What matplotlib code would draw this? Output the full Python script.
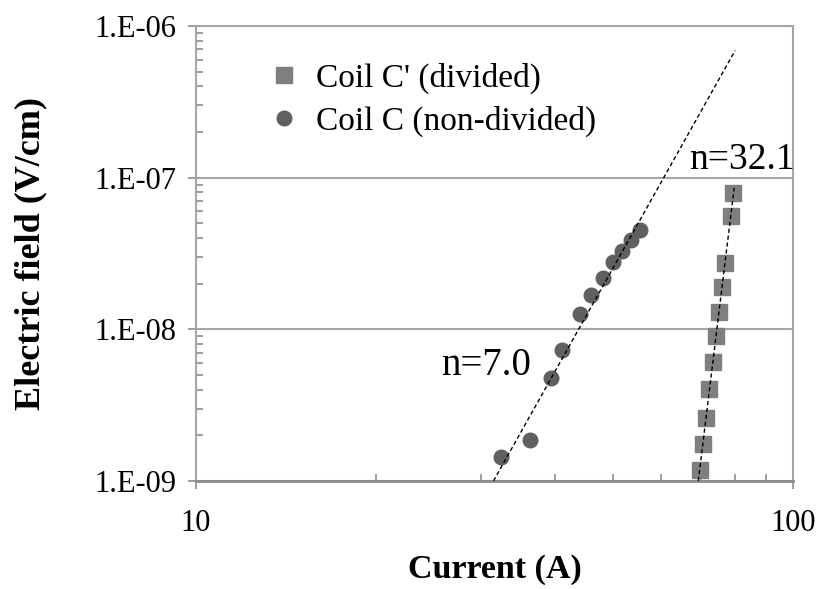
import math
import matplotlib
matplotlib.use("Agg")
import matplotlib.pyplot as plt
from matplotlib.ticker import FixedLocator, FuncFormatter, LogLocator, NullFormatter

# Coil C' (divided) - squares
cp_current = [79.4, 78.7, 76.9, 76.0, 75.3, 74.3, 73.4, 72.4, 71.5, 70.7, 69.8]
cp_field = [7.96e-8, 5.59e-8, 2.73e-8, 1.89e-8, 1.31e-8, 9.09e-9, 6.07e-9,
            4.06e-9, 2.59e-9, 1.76e-9, 1.18e-9]

# Coil C (non-divided) - circles
c_current = [32.4, 36.3, 39.3, 41.1, 43.9, 45.8, 48.0, 49.9, 51.8, 53.5, 55.4]
c_field = [1.45e-9, 1.87e-9, 4.80e-9, 7.31e-9, 1.26e-8, 1.69e-8, 2.19e-8,
           2.78e-8, 3.30e-8, 3.88e-8, 4.52e-8]

# fitted n-value lines (end points)
fit_c_current = [31.5, 80.0]
fit_c_field = [1.0e-9, 6.9e-7]
fit_cp_current = [69.4, 79.7]
fit_cp_field = [1.0e-9, 8.55e-8]

plt.rcParams['font.family'] = ['Liberation Serif', 'DejaVu Serif']

fig = plt.figure(figsize=(8.21, 5.89), dpi=100)
ax = fig.add_axes([0.2387, 0.1834, 0.7272, 0.7725])

ax.set_xscale('log')
ax.set_yscale('log')
ax.set_xlim(10, 100)
ax.set_ylim(1e-9, 1e-6)

ax.yaxis.set_major_locator(FixedLocator([1e-9, 1e-8, 1e-7, 1e-6]))
ax.yaxis.set_major_formatter(FuncFormatter(lambda v, p: "1.E-%02d" % round(-math.log10(v))))
ax.xaxis.set_major_locator(FixedLocator([10, 100]))
ax.xaxis.set_major_formatter(FuncFormatter(lambda v, p: "%d" % v))
ax.xaxis.set_minor_locator(LogLocator(base=10, subs=range(2, 10)))
ax.yaxis.set_minor_locator(LogLocator(base=10, subs=range(2, 10)))
ax.xaxis.set_minor_formatter(NullFormatter())
ax.yaxis.set_minor_formatter(NullFormatter())

ax.grid(True, which='major', axis='y', color='#a6a6a6', linewidth=1.5)
ax.set_axisbelow(True)
for s in ax.spines.values():
    s.set_color('#a6a6a6')
    s.set_linewidth(1.5)
ax.spines['bottom'].set_color('#8c8c8c')
ax.spines['bottom'].set_linewidth(2)

ax.tick_params(which='major', direction='out', length=6, width=1.2, color='#8c8c8c',
               labelsize=22, pad=8)
ax.tick_params(which='minor', direction='in', length=5, width=1.2, color='#8c8c8c')
ax.tick_params(axis='x', which='major', pad=14)

ax.plot(fit_c_current, fit_c_field, color='black', linestyle='--', linewidth=1.0,
        dashes=(3, 2), zorder=3)
ax.plot(fit_cp_current, fit_cp_field, color='black', linestyle='--', linewidth=1.0,
        dashes=(3, 2), zorder=3)

ax.plot(cp_current, cp_field, linestyle='none', marker='s', markersize=11,
        color='#7f7f7f', label="Coil C' (divided)", zorder=2)
ax.plot(c_current, c_field, linestyle='none', marker='o', markersize=10.5,
        color='#606060', label="Coil C (non-divided)", zorder=2)

ax.text(0.826, 0.706, "n=32.1", transform=ax.transAxes, fontsize=27, ha='left', va='center')
ax.text(0.41, 0.253, "n=7.0", transform=ax.transAxes, fontsize=28, ha='left', va='center')

ax.legend(loc='upper left', bbox_to_anchor=(0.069, 0.985), frameon=False, fontsize=24,
          handletextpad=0.45, labelspacing=0.36, handlelength=1.0)

ax.set_xlabel('Current (A)', fontsize=24.5, fontweight='bold', labelpad=12)
ax.set_ylabel('Electric field (V/cm)', fontsize=26, fontweight='bold', labelpad=34)

fig.savefig('out.png', dpi=100)
